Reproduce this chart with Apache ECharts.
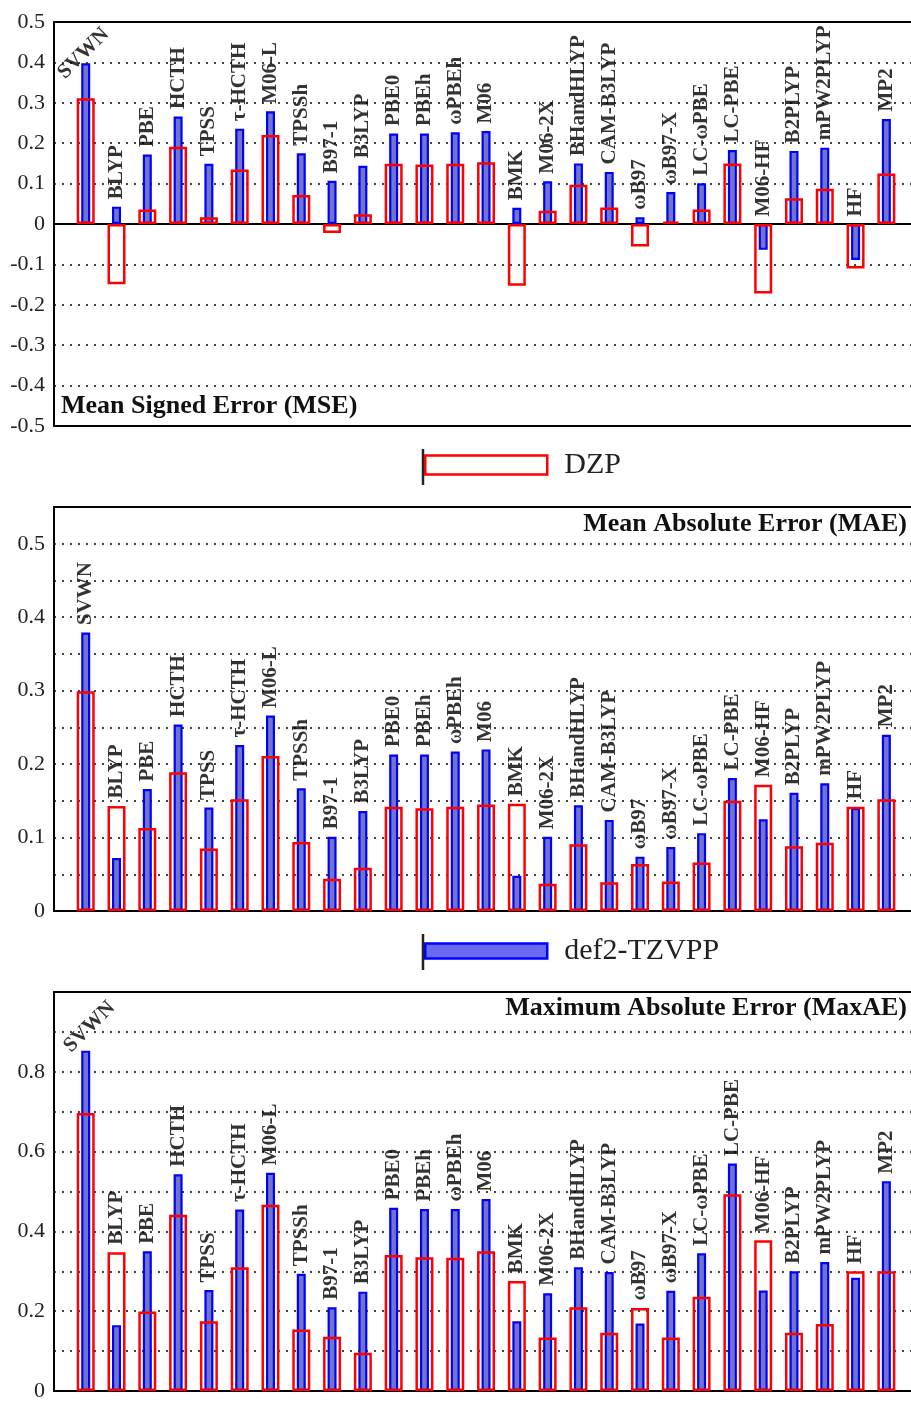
<!DOCTYPE html>
<html>
<head>
<meta charset="utf-8">
<script src="https://cdn.jsdelivr.net/npm/echarts@6/dist/echarts.min.js"></script>
<style>
  html, body { margin: 0; padding: 0; background: #fff; }
  #main { width: 911px; height: 1402px; }
</style>
</head>
<body>
<div id="main"></div>
<script>
const categories = ['SVWN', 'BLYP', 'PBE', 'HCTH', 'TPSS', 'τ-HCTH', 'M06-L', 'TPSSh', 'B97-1', 'B3LYP',
  'PBE0', 'PBEh', 'ωPBEh', 'M06', 'BMK', 'M06-2X', 'BHandHLYP', 'CAM-B3LYP', 'ωB97', 'ωB97-X',
  'LC-ωPBE', 'LC-PBE', 'M06-HF', 'B2PLYP', 'mPW2PLYP', 'HF', 'MP2']

// mean signed error
const mseTZVPP = [0.398, 0.043, 0.172, 0.266, 0.149, 0.236, 0.279, 0.175, 0.107, 0.144, 0.224, 0.224, 0.227, 0.230,
  0.040, 0.106, 0.150, 0.129, 0.017, 0.079, 0.101, 0.183, -0.064, 0.181, 0.189, -0.089, 0.260]
const mseDZP = [0.311, -0.149, 0.036, 0.191, 0.017, 0.135, 0.220, 0.072, -0.022, 0.024, 0.149, 0.147, 0.149, 0.153,
  -0.153, 0.033, 0.097, 0.041, -0.056, 0.006, 0.036, 0.150, -0.172, 0.064, 0.087, -0.110, 0.125]

// mean absolute error
const maeTZVPP = [0.379, 0.072, 0.166, 0.254, 0.141, 0.226, 0.266, 0.167, 0.101, 0.136, 0.213, 0.213, 0.217, 0.220,
  0.048, 0.101, 0.144, 0.124, 0.074, 0.087, 0.106, 0.181, 0.125, 0.161, 0.174, 0.140, 0.240]
const maeDZP = [0.299, 0.143, 0.113, 0.189, 0.085, 0.152, 0.211, 0.094, 0.044, 0.059, 0.142, 0.140, 0.142, 0.145,
  0.146, 0.037, 0.091, 0.039, 0.064, 0.040, 0.066, 0.150, 0.172, 0.088, 0.093, 0.142, 0.152]

// maximum absolute error
const maxTZVPP = [0.853, 0.165, 0.350, 0.543, 0.253, 0.455, 0.547, 0.294, 0.210, 0.249, 0.459, 0.456, 0.456, 0.481,
  0.175, 0.245, 0.310, 0.298, 0.169, 0.251, 0.345, 0.570, 0.252, 0.300, 0.323, 0.284, 0.526]
const maxDZP = [0.697, 0.348, 0.199, 0.442, 0.175, 0.310, 0.467, 0.154, 0.136, 0.096, 0.341, 0.335, 0.334, 0.350,
  0.276, 0.134, 0.210, 0.146, 0.208, 0.134, 0.236, 0.493, 0.378, 0.146, 0.168, 0.300, 0.300]

const panelTitles = ['Mean Signed Error (MSE)', 'Mean Absolute Error (MAE)', 'Maximum Absolute Error (MaxAE)']
const yRanges = [[-0.5, 0.5, 0.1], [0, 0.55, 0.05], [0, 1.0, 0.1]]

const serif = 'Liberation Serif'
const blueFill = '#7274c4'
const blueLine = '#0000ff'
const redLine = '#ff0000'
const frame = { show: true, onZero: false, lineStyle: { color: '#000', width: 2 } }

const panels = [
  { tz: mseTZVPP, dzp: mseDZP, slanted: [-24, 13], labelStep: 0.1, lastLabel: 0.5 },
  { tz: maeTZVPP, dzp: maeDZP, slanted: null, labelStep: 0.1, lastLabel: 0.5 },
  { tz: maxTZVPP, dzp: maxDZP, slanted: [-18, -1], labelStep: 0.2, lastLabel: 0.8 }
]

function tickLabel(step, last) {
  return function (v) {
    const k = v / step
    if (Math.abs(k - Math.round(k)) > 1e-6) return ''
    if (v > last + 1e-6) return ''
    return String(Math.round(v * 100) / 100)
  }
}

function xAxisFor(k, position, axisLine) {
  return {
    gridIndex: k, type: 'value', min: -1.03, max: 26.8, position,
    axisLabel: { show: false }, axisTick: { show: false }, splitLine: { show: false },
    axisLine
  }
}

const chart = echarts.init(document.getElementById('main'))

const grid = [
  { left: 54, top: 22, right: 0, height: 404 },
  { left: 54, top: 507, right: 0, height: 404 },
  { left: 54, top: 992, right: 0, height: 403 }
]

const xAxis = []
const yAxis = []
const series = []

panels.forEach((p, k) => {
  // zero line / tzvpp bars, top frame / dzp bars, bottom frame
  xAxis.push(xAxisFor(k, 'bottom', { show: true, onZero: true, lineStyle: { color: '#000', width: 2 } }))
  xAxis.push(xAxisFor(k, 'top', frame))
  xAxis.push(xAxisFor(k, 'bottom', frame))

  const [min, max, interval] = yRanges[k]
  yAxis.push({
    gridIndex: k, type: 'value', min, max, interval,
    axisLine: frame, axisTick: { show: false },
    axisLabel: { fontFamily: serif, fontSize: 22, color: '#222', margin: 9, formatter: tickLabel(p.labelStep, p.lastLabel) },
    splitLine: { show: true, lineStyle: { type: [2, 6], color: '#444', width: 2 } }
  })

  series.push({
    name: 'def2-TZVPP', type: 'bar', xAxisIndex: 3 * k, yAxisIndex: k,
    barWidth: 9,
    itemStyle: { color: blueFill, borderColor: blueLine, borderWidth: 2.2 },
    data: p.tz.map((v, i) => [i, v])
  })
  series.push({
    name: 'DZP', type: 'bar', xAxisIndex: 3 * k + 1, yAxisIndex: k,
    barWidth: 18,
    itemStyle: { color: 'rgba(255,255,255,0)', borderColor: redLine, borderWidth: 2.5 },
    data: p.dzp.map((v, i) => [i, v])
  })

  // method names above the bars
  const labelData = categories.map((c, i) => {
    const item = { value: [i, Math.max(0, p.tz[i], p.dzp[i])] }
    if (i === 0 && p.slanted) item.label = { rotate: 45, position: p.slanted, align: 'left', verticalAlign: 'middle' }
    return item
  })
  series.push({
    type: 'scatter', xAxisIndex: 3 * k, yAxisIndex: k,
    symbolSize: 1, itemStyle: { color: 'rgba(0,0,0,0)' },
    silent: true, z: 5,
    label: {
      show: true, position: 'top', distance: 7, rotate: 90, align: 'left', verticalAlign: 'middle',
      fontFamily: serif, fontWeight: 'bold', fontSize: 21, color: '#000',
      formatter: params => categories[params.dataIndex]
    },
    data: labelData
  })
})

const titleStyle = { fontFamily: serif, fontWeight: 'bold', fontSize: 26, color: '#111' }

const option = {
  animation: false,
  backgroundColor: '#fff',
  title: [
    { text: panelTitles[0], left: 61, top: 393, padding: 0, textStyle: titleStyle },
    { text: panelTitles[1], left: 907, textAlign: 'right', top: 511, padding: 0, textStyle: titleStyle },
    { text: panelTitles[2], left: 907, textAlign: 'right', top: 995, padding: 0, textStyle: titleStyle }
  ],
  legend: [
    {
      data: [{ name: 'DZP', itemStyle: { color: '#fff', borderColor: redLine, borderWidth: 2.5 } }],
      left: 424, top: 450, padding: 0, icon: 'rect', itemWidth: 122, itemHeight: 19,
      selectedMode: false,
      textStyle: { fontFamily: serif, fontSize: 30, color: '#222', padding: [0, 0, 0, 12] }
    },
    {
      data: [{ name: 'def2-TZVPP', itemStyle: { color: '#6a6af0', borderColor: blueLine, borderWidth: 2.5 } }],
      left: 424, top: 936, padding: 0, icon: 'rect', itemWidth: 122, itemHeight: 15,
      selectedMode: false,
      textStyle: { fontFamily: serif, fontSize: 30, color: '#222', padding: [0, 0, 0, 12] }
    }
  ],
  graphic: [
    { type: 'line', shape: { x1: 423, y1: 449, x2: 423, y2: 485 }, style: { stroke: '#222', lineWidth: 2.5 } },
    { type: 'line', shape: { x1: 423, y1: 934, x2: 423, y2: 970 }, style: { stroke: '#222', lineWidth: 2.5 } }
  ],
  grid,
  xAxis,
  yAxis,
  series
}

chart.setOption(option)
</script>
</body>
</html>
